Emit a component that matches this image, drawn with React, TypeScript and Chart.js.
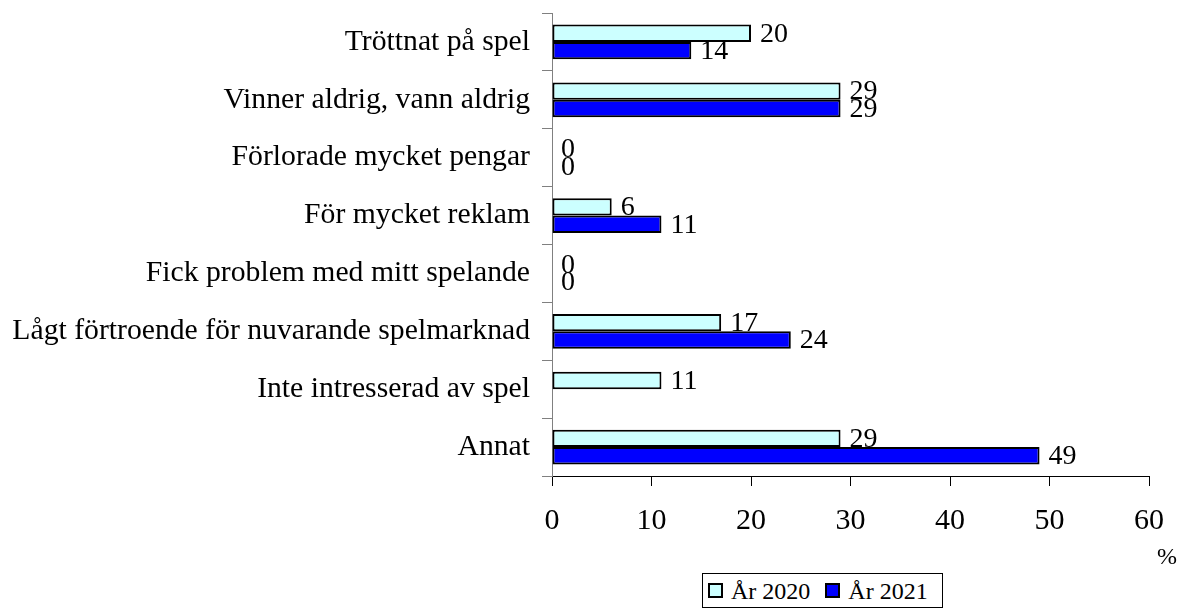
import React, { useEffect, useRef } from "react";
import { Chart, registerables } from "chart.js";

Chart.register(...registerables);

const categories = [
  "Tröttnat på spel",
  "Vinner aldrig, vann aldrig",
  "Förlorade mycket pengar",
  "För mycket reklam",
  "Fick problem med mitt spelande",
  "Lågt förtroende för nuvarande spelmarknad",
  "Inte intresserad av spel",
  "Annat",
];
const values2020: (number | null)[] = [20, 29, 0, 6, 0, 17, 11, 29];
const values2021: (number | null)[] = [14, 29, 0, 11, 0, 24, null, 49];
const seriesNames = ["År 2020", "År 2021"];
const seriesColors = ["#CCFFFF", "#0000FF"];
const xMin = 0;
const xMax = 60;
const xStep = 10;
const unitLabel = "%";

const FONT = "'Liberation Serif', 'Times New Roman', serif";

const valueLabels = {
  id: "valueLabels",
  afterDatasetsDraw(chart: any) {
    const ctx = chart.ctx;
    ctx.save();
    ctx.font = `28px ${FONT}`;
    ctx.fillStyle = "#000";
    ctx.textBaseline = "middle";
    ctx.textAlign = "left";
    chart.data.datasets.forEach((ds: any, i: number) => {
      const meta = chart.getDatasetMeta(i);
      meta.data.forEach((el: any, j: number) => {
        const v = ds.data[j];
        if (v === null || v === undefined || !isFinite(el.x)) return;
        ctx.fillText(String(v), el.x + 9, el.y + 1);
      });
    });
    ctx.restore();
  },
};

export default function App() {
  const canvasRef = useRef<HTMLCanvasElement | null>(null);

  useEffect(() => {
    if (!canvasRef.current) return;
    const chart = new Chart(canvasRef.current, {
      type: "bar",
      data: {
        labels: categories,
        datasets: [
          {
            label: seriesNames[0],
            data: values2020,
            backgroundColor: seriesColors[0],
            borderColor: "#000",
            borderWidth: 2,
            borderSkipped: false,
            categoryPercentage: 0.6,
            barPercentage: 1,
          },
          {
            label: seriesNames[1],
            data: values2021,
            backgroundColor: seriesColors[1],
            borderColor: "#000",
            borderWidth: 2,
            borderSkipped: false,
            categoryPercentage: 0.6,
            barPercentage: 1,
          },
        ],
      },
      options: {
        indexAxis: "y",
        responsive: true,
        maintainAspectRatio: false,
        animation: false,
        layout: { padding: { top: 13, right: 30, left: 0, bottom: 0 } },
        plugins: {
          legend: { display: false },
          tooltip: { enabled: false },
        },
        scales: {
          x: {
            min: xMin,
            max: xMax,
            ticks: {
              stepSize: xStep,
              color: "#000",
              font: { family: FONT, size: 30 },
              padding: 17,
              maxRotation: 0,
            },
            grid: {
              drawOnChartArea: false,
              drawTicks: true,
              tickLength: 10,
              color: "#000",
            },
            border: { color: "#000", width: 1 },
            afterFit: (s: any) => {
              s.height = 132;
              s.paddingLeft = 0;
              s.paddingRight = 0;
            },
          },
          y: {
            ticks: {
              color: "#000",
              font: { family: FONT, size: 29.7 },
              padding: 12,
              autoSkip: false,
            },
            grid: {
              drawOnChartArea: false,
              drawTicks: true,
              tickLength: 10,
              color: "#808080",
              offset: true,
            },
            border: { color: "#808080", width: 1 },
            afterFit: (s: any) => {
              s.width = 552;
              s.paddingTop = 0;
              s.paddingBottom = 0;
            },
          },
        },
      },
      plugins: [valueLabels],
    } as any);
    return () => chart.destroy();
  }, []);

  return (
    <div style={{ position: "fixed", left: 0, top: 0, width: 1179, height: 608, background: "#fff" }}>
      <canvas ref={canvasRef} />
      <span
        style={{
          position: "absolute",
          left: 1157,
          top: 544,
          fontFamily: FONT,
          fontSize: 24,
          lineHeight: 1,
          color: "#000",
        }}
      >
        {unitLabel}
      </span>
      <div
        style={{
          position: "absolute",
          left: 702,
          top: 573,
          height: 35,
          boxSizing: "border-box",
          border: "1px solid #000",
          display: "flex",
          alignItems: "center",
          padding: "0 14px 0 5px",
          fontFamily: FONT,
          fontSize: 24,
          lineHeight: 1,
          color: "#000",
          background: "#fff",
        }}
      >
        {seriesNames.map((n, i) => (
          <div key={n} style={{ display: "flex", alignItems: "center", marginLeft: i === 0 ? 0 : 15 }}>
            <span
              style={{
                display: "inline-block",
                width: 15,
                height: 15,
                boxSizing: "border-box",
                border: "2px solid #000",
                background: seriesColors[i],
                marginRight: 8,
              }}
            />
            <span>{n}</span>
          </div>
        ))}
      </div>
    </div>
  );
}
